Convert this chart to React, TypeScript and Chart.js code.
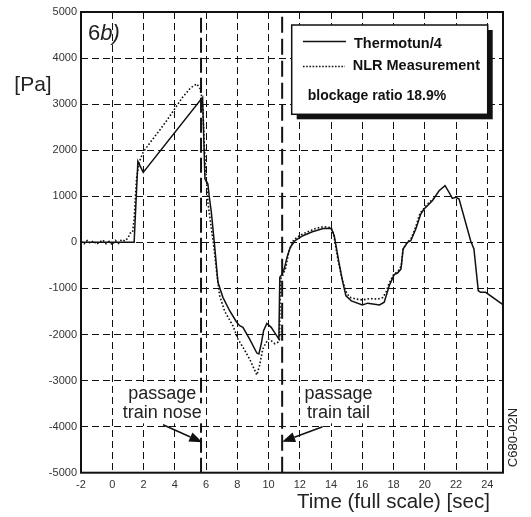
import React, { useEffect, useRef } from "react";
import { Chart, registerables } from "chart.js";

Chart.register(...registerables);

// ---- data ----
const xTickValues = [-2, 0, 2, 4, 6, 8, 10, 12, 14, 16, 18, 20, 22, 24];
const yTickValues = [-5000, -4000, -3000, -2000, -1000, 0, 1000, 2000, 3000, 4000, 5000];

const thermoLabel = "Thermotun/4";
const thermoX = [
  -2, 1.4, 1.64, 1.98, 5.78, 5.93, 6.12, 6.2, 6.34, 6.55, 6.76, 7.08, 7.51, 7.94, 8.15, 8.36,
  8.79, 9.25, 9.38, 9.53, 9.68, 9.89, 10.17, 10.66, 10.72, 10.85, 11.0, 11.2, 11.4, 11.7,
  12.2, 12.8, 13.5, 14.0, 14.2, 14.5, 14.75, 14.95, 15.3, 16.0, 16.35, 17.1, 17.4, 17.72,
  18.04, 18.25, 18.47, 18.61, 18.89, 19.1, 19.42, 19.74, 19.95, 20.48, 20.91, 21.29, 21.55,
  21.76, 21.97, 22.19, 22.93, 23.14, 23.42, 23.57, 23.89, 24.95,
];
const thermoY = [
  0, 0, 1758, 1519, 3147, 1374, 1265, 1012, 651, -74, -868, -1194, -1484, -1723, -1810, -1845,
  -2099, -2403, -2424, -2207, -1918, -1759, -1845, -2099, -760, -700, -580, -300, -100, 40,
  144, 231, 300, 304, 150, -430, -870, -1160, -1270, -1360, -1320, -1360, -1300, -942,
  -700, -666, -580, -145, 0, 36, 289, 614, 723, 903, 1120, 1229, 1085,
  955, 977, 940, 36, -145, -1050, -1085, -1085, -1339,
];

const nlrLabel = "NLR Measurement";
const nlrX = [
  -2, -1.8, -1.6, -1.4, -1.2, -1.0, -0.8, -0.6, -0.4, -0.2, 0, 0.2, 0.4, 0.6, 0.8, 1.0, 1.15,
  1.3, 1.4, 1.55, 1.72, 1.98, 2.5, 3.0, 3.5, 4.0, 4.5, 5.0, 5.4, 5.6, 5.7, 5.8, 5.9, 6.02,
  6.12, 6.3, 6.5, 6.7, 6.87, 7.2, 7.72, 8.04, 8.4, 8.79, 9.25, 9.42, 9.63, 9.85, 10.0, 10.17,
  10.4, 10.59, 10.7, 10.76, 10.9, 11.1, 11.3, 11.6, 12.0, 12.5, 13.0, 13.5, 14.0, 14.15, 14.4,
  14.7, 15.0, 15.2, 15.6, 16.0, 16.5, 17.0, 17.3, 17.51, 17.7, 18.0, 18.3, 18.5, 18.6, 18.9,
  19.1, 19.4, 19.7, 20.0, 20.3, 20.6,
];
const nlrY = [
  20, -30, 40, -20, 30, -40, 10, 50, -30, 20, -50, 40, -20, 60, 30, 90, 200,
  217, 505, 1374, 1737, 1960, 2200, 2420, 2650, 2900, 3150, 3350, 3440, 3350, 3200, 2900, 2000, 1374,
  868, 400, -100, -700, -1159, -1500, -1810, -2099, -2300, -2533, -2880, -2678, -2316, -2171, -2100, -2135,
  -2200, -2171, -2100, -800, -720, -550, -200, 50, 150, 230, 300, 340, 320, 200, -300,
  -800, -1100, -1194, -1231, -1250, -1220, -1231, -1200, -1085, -900, -700, -620, -500, -150, 20,
  60, 320, 640, 760, 880, 960,
];

const noseTime = 5.68;
const tailTime = 10.87;
const xMin = -2;
const xMax = 25;
const yMin = -5000;
const yMax = 5000;

const panelLabel = ["6", "b)"];
const yTitle = "[Pa]";
const xTitle = "Time (full scale) [sec]";
const ratioText = "blockage ratio 18.9%";
const noseText = ["passage", "train nose"];
const tailText = ["passage", "train tail"];
const codeText = "C680-02N";

const FONT = "'Liberation Sans', Arial, Helvetica, sans-serif";

function arrow(ctx: CanvasRenderingContext2D, x1: number, y1: number, x2: number, y2: number) {
  const ang = Math.atan2(y2 - y1, x2 - x1);
  const headLen = 13;
  const headW = 5;
  const bx = x2 - headLen * Math.cos(ang);
  const by = y2 - headLen * Math.sin(ang);
  ctx.beginPath();
  ctx.moveTo(x1, y1);
  ctx.lineTo(bx, by);
  ctx.lineWidth = 1.5;
  ctx.strokeStyle = "#111";
  ctx.setLineDash([]);
  ctx.stroke();
  ctx.beginPath();
  ctx.moveTo(x2, y2);
  ctx.lineTo(bx + headW * Math.sin(ang), by - headW * Math.cos(ang));
  ctx.lineTo(bx - headW * Math.sin(ang), by + headW * Math.cos(ang));
  ctx.closePath();
  ctx.fillStyle = "#111";
  ctx.fill();
}

function boxedText(ctx: CanvasRenderingContext2D, text: string, cx: number, baseline: number) {
  const w = ctx.measureText(text).width;
  ctx.fillStyle = "#fff";
  ctx.fillRect(cx - w / 2 - 2, baseline - 15, w + 4, 20);
  ctx.fillStyle = "#222";
  ctx.fillText(text, cx, baseline);
}

const overlayPlugin = {
  id: "overlay",
  afterDraw(chart: any) {
    const { ctx, chartArea: ca, scales } = chart;
    const xs = scales.x;
    const ys = scales.y;
    ctx.save();

    // plot frame
    ctx.setLineDash([]);
    ctx.strokeStyle = "#111";
    ctx.lineWidth = 2;
    ctx.strokeRect(ca.left, ca.top, ca.right - ca.left, ca.bottom - ca.top);

    // panel label 6b)
    ctx.fillStyle = "#222";
    ctx.textBaseline = "alphabetic";
    ctx.textAlign = "left";
    ctx.font = `22px ${FONT}`;
    const px = ca.left + 7;
    const py = ca.top + 27.5;
    ctx.fillText(panelLabel[0], px, py);
    const w6 = ctx.measureText(panelLabel[0]).width;
    ctx.font = `italic 22px ${FONT}`;
    ctx.fillText(panelLabel[1], px + w6, py);

    // y title
    ctx.font = `21px ${FONT}`;
    ctx.textAlign = "center";
    ctx.textBaseline = "middle";
    ctx.fillText(yTitle, 33, 85);

    // x title
    ctx.font = `20.5px ${FONT}`;
    ctx.textAlign = "left";
    ctx.textBaseline = "alphabetic";
    ctx.fillText(xTitle, 297, 507.5);

    // code text
    ctx.save();
    ctx.font = `13px ${FONT}`;
    ctx.translate(517, 437.5);
    ctx.rotate(-Math.PI / 2);
    ctx.textAlign = "center";
    ctx.fillText(codeText, 0, 0);
    ctx.restore();

    // legend box
    const lx = 291.7;
    const ly = 25;
    const lw = 196;
    const lh = 89.3;
    ctx.fillStyle = "#111";
    ctx.fillRect(lx + 5, ly + 5, lw, lh);
    ctx.fillStyle = "#fff";
    ctx.fillRect(lx, ly, lw, lh);
    ctx.strokeStyle = "#111";
    ctx.lineWidth = 1.5;
    ctx.strokeRect(lx, ly, lw, lh);

    const ds = chart.data.datasets;
    ctx.beginPath();
    ctx.moveTo(303, 41.5);
    ctx.lineTo(346, 41.5);
    ctx.lineWidth = 1.5;
    ctx.setLineDash([]);
    ctx.stroke();
    ctx.beginPath();
    ctx.moveTo(303, 66.5);
    ctx.lineTo(345, 66.5);
    ctx.lineWidth = 1.6;
    ctx.setLineDash([1.6, 1.6]);
    ctx.stroke();
    ctx.setLineDash([]);

    ctx.fillStyle = "#111";
    ctx.font = `bold 14.5px ${FONT}`;
    ctx.textAlign = "left";
    ctx.fillText(ds[0].label, 354, 48.3);
    ctx.fillText(ds[1].label, 352.7, 69.5);
    ctx.font = `bold 14px ${FONT}`;
    ctx.fillText(ratioText, 307.7, 100);

    // annotations
    ctx.font = `18px ${FONT}`;
    ctx.textAlign = "center";
    const nx = xs.getPixelForValue(3.2);
    const tx = xs.getPixelForValue(14.48);
    const b1 = ys.getPixelForValue(-3400);
    const b2 = ys.getPixelForValue(-3820);
    boxedText(ctx, noseText[0], nx, b1);
    boxedText(ctx, noseText[1], nx, b2);
    boxedText(ctx, tailText[0], tx, b1);
    boxedText(ctx, tailText[1], tx, b2);

    arrow(
      ctx,
      xs.getPixelForValue(3.25), ys.getPixelForValue(-3960),
      xs.getPixelForValue(noseTime + 0.08), ys.getPixelForValue(-4340)
    );
    arrow(
      ctx,
      xs.getPixelForValue(13.46), ys.getPixelForValue(-4003),
      xs.getPixelForValue(tailTime), ys.getPixelForValue(-4330)
    );

    ctx.restore();
  },
};

export default function App() {
  const canvasRef = useRef<HTMLCanvasElement | null>(null);

  useEffect(() => {
    if (!canvasRef.current) return;
    const thermo = thermoX.map((x, i) => ({ x, y: thermoY[i] }));
    const nlr = nlrX.map((x, i) => ({ x, y: nlrY[i] }));
    const chart = new Chart(canvasRef.current, {
      type: "line",
      data: {
        datasets: [
          {
            label: thermoLabel,
            data: thermo,
            borderColor: "#111",
            borderWidth: 1.5,
            pointRadius: 0,
            tension: 0,
            fill: false,
          },
          {
            label: nlrLabel,
            data: nlr,
            borderColor: "#111",
            borderWidth: 1.6,
            borderDash: [1.6, 2],
            pointRadius: 0,
            tension: 0,
            fill: false,
          },
          {
            label: "nose",
            data: [
              { x: noseTime, y: yMin },
              { x: noseTime, y: yMax },
            ],
            borderColor: "#111",
            borderWidth: 2,
            borderDash: [15, 5],
            pointRadius: 0,
          },
          {
            label: "tail",
            data: [
              { x: tailTime, y: yMin },
              { x: tailTime, y: yMax },
            ],
            borderColor: "#111",
            borderWidth: 2,
            borderDash: [16, 6],
            pointRadius: 0,
          },
        ],
      },
      options: {
        responsive: false,
        animation: false,
        events: [],
        layout: { padding: { left: 0, top: 12, right: 28, bottom: 0 } },
        plugins: {
          legend: { display: false },
          tooltip: { enabled: false },
          title: { display: false },
        },
        scales: {
          x: {
            type: "linear",
            min: xMin,
            max: xMax,
            afterBuildTicks: (scale: any) => {
              scale.ticks = xTickValues.map((v) => ({ value: v }));
            },
            afterFit: (scale: any) => {
              scale.height = 44.3;
            },
            grid: {
              color: "#111",
              lineWidth: 1,
              drawTicks: false,
            },
            border: { display: false, dash: [7, 4] },
            ticks: {
              padding: 6,
              color: "#333",
              font: { family: FONT, size: 11 },
              maxRotation: 0,
              autoSkip: false,
              callback: (v: any) => String(v),
            },
          },
          y: {
            type: "linear",
            min: yMin,
            max: yMax,
            afterBuildTicks: (scale: any) => {
              scale.ticks = yTickValues.map((v) => ({ value: v }));
            },
            afterFit: (scale: any) => {
              scale.width = 81;
            },
            grid: {
              color: "#111",
              lineWidth: 1,
              drawTicks: false,
            },
            border: { display: false, dash: [7, 4] },
            ticks: {
              padding: 4,
              color: "#333",
              font: { family: FONT, size: 11 },
              autoSkip: false,
              callback: (v: any) => String(v),
            },
          },
        },
      },
      plugins: [overlayPlugin],
    });
    return () => chart.destroy();
  }, []);

  return (
    <div style={{ position: "absolute", left: 0, top: 0, width: 531, height: 517, background: "#fff" }}>
      <canvas ref={canvasRef} width={531} height={517} />
    </div>
  );
}
